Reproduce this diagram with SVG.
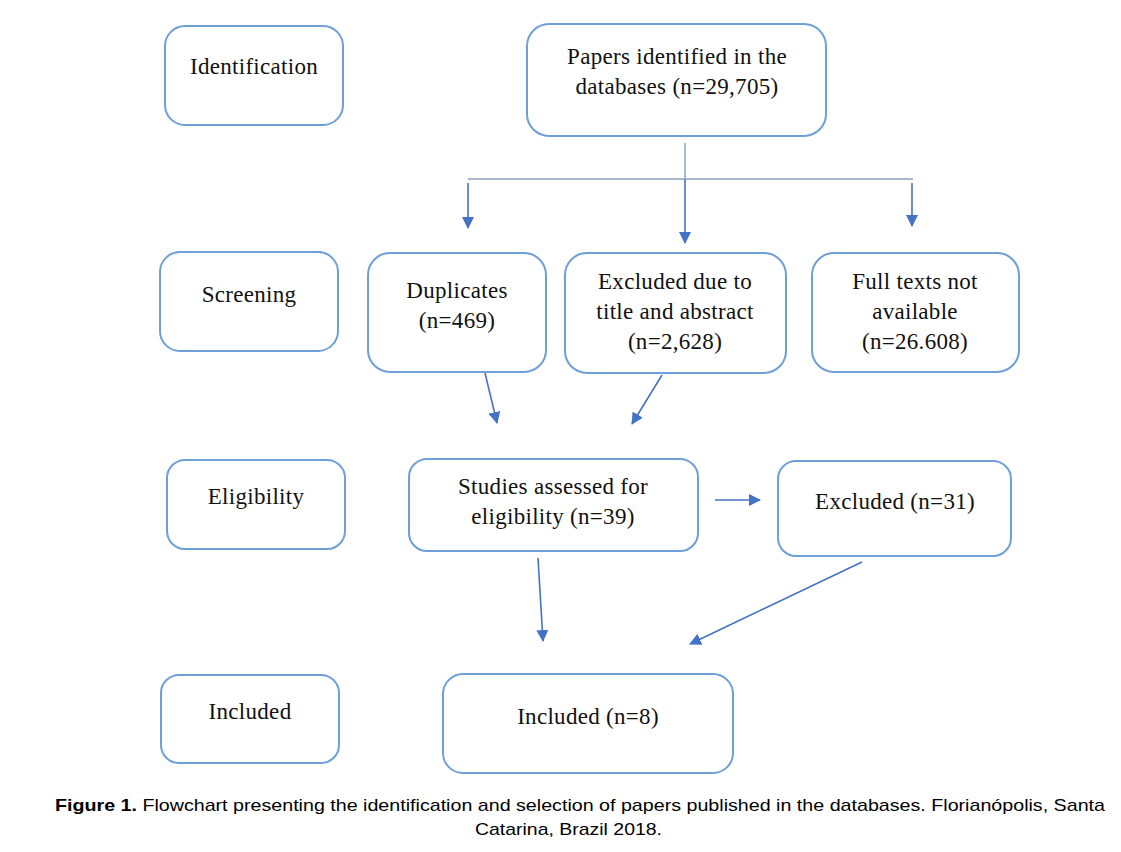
<svg xmlns="http://www.w3.org/2000/svg" width="1121" height="852" viewBox="0 0 1121 852">
<style>
.box{fill:#fff;stroke:#6f9fd8;stroke-width:2}
.t{font-family:"Liberation Serif","Times New Roman",serif;font-size:23px;letter-spacing:0.3px;fill:#111;text-anchor:middle}
.c{stroke:#4472c4;stroke-width:1.6;fill:none}
.g{stroke:#a9b8cc;stroke-width:2;fill:none}
.cap{font-family:"Liberation Sans",Arial,sans-serif;font-size:17px;fill:#000}
</style>
<defs>
<marker id="ah" viewBox="0 0 12 12" refX="11" refY="6" markerWidth="12" markerHeight="12" markerUnits="userSpaceOnUse" orient="auto">
<path d="M0,0 L12,6 L0,12 z" fill="#4472c4"/>
</marker>
</defs>
<rect width="1121" height="852" fill="#fff"/>
<g id="identification"><rect class="box" x="165" y="26" width="178" height="99" rx="20"/><text class="t" x="254" y="74">Identification</text></g>
<g id="papers"><rect class="box" x="527" y="24" width="299" height="112" rx="22"/><text class="t" x="677" y="64">Papers identified in the</text><text class="t" x="677" y="94">databases (n=29,705)</text></g>
<g id="screening"><rect class="box" x="160" y="252" width="178" height="99" rx="20"/><text class="t" x="249" y="302">Screening</text></g>
<g id="duplicates"><rect class="box" x="368" y="253" width="178" height="119" rx="22"/><text class="t" x="457" y="298">Duplicates</text><text class="t" x="457" y="328">(n=469)</text></g>
<g id="excluded-title"><rect class="box" x="565" y="253" width="221" height="120" rx="22"/><text class="t" x="675" y="289">Excluded due to</text><text class="t" x="675" y="319">title and abstract</text><text class="t" x="675" y="349">(n=2,628)</text></g>
<g id="fulltexts"><rect class="box" x="812" y="253" width="207" height="119" rx="22"/><text class="t" x="915" y="289">Full texts not</text><text class="t" x="915" y="319">available</text><text class="t" x="915" y="349">(n=26.608)</text></g>
<g id="eligibility"><rect class="box" x="167" y="460" width="178" height="89" rx="18"/><text class="t" x="256" y="504">Eligibility</text></g>
<g id="studies"><rect class="box" x="409" y="459" width="289" height="92" rx="18"/><text class="t" x="553" y="494">Studies assessed for</text><text class="t" x="553" y="524">eligibility (n=39)</text></g>
<g id="excluded31"><rect class="box" x="778" y="461" width="233" height="95" rx="18"/><text class="t" x="895" y="509">Excluded (n=31)</text></g>
<g id="included-label"><rect class="box" x="161" y="675" width="178" height="88" rx="18"/><text class="t" x="250" y="719">Included</text></g>
<g id="included"><rect class="box" x="443" y="674" width="290" height="99" rx="20"/><text class="t" x="588" y="724">Included (n=8)</text></g>
<g id="connectors">
<line class="g" x1="685" y1="143" x2="685" y2="179"/>
<line class="g" x1="468" y1="179" x2="913" y2="179"/>
<line class="c" x1="468" y1="183" x2="468" y2="228" marker-end="url(#ah)"/>
<line class="c" x1="685" y1="179" x2="685" y2="243" marker-end="url(#ah)"/>
<line class="c" x1="912" y1="183" x2="912" y2="226" marker-end="url(#ah)"/>
<line class="c" x1="485" y1="373" x2="497" y2="423" marker-end="url(#ah)"/>
<line class="c" x1="662" y1="375" x2="632" y2="424" marker-end="url(#ah)"/>
<line class="c" x1="715" y1="500" x2="760" y2="500" marker-end="url(#ah)"/>
<line class="c" x1="538" y1="558" x2="543" y2="641" marker-end="url(#ah)"/>
<line class="c" x1="862" y1="562" x2="690" y2="644" marker-end="url(#ah)"/>
</g>
<g id="caption">
<text class="cap" x="55" y="811" textLength="1050" lengthAdjust="spacingAndGlyphs"><tspan font-weight="bold">Figure 1.</tspan> Flowchart presenting the identification and selection of papers published in the databases. Florianópolis, Santa</text>
<text class="cap" x="475" y="835" textLength="187" lengthAdjust="spacingAndGlyphs">Catarina, Brazil 2018.</text>
</g>
</svg>
